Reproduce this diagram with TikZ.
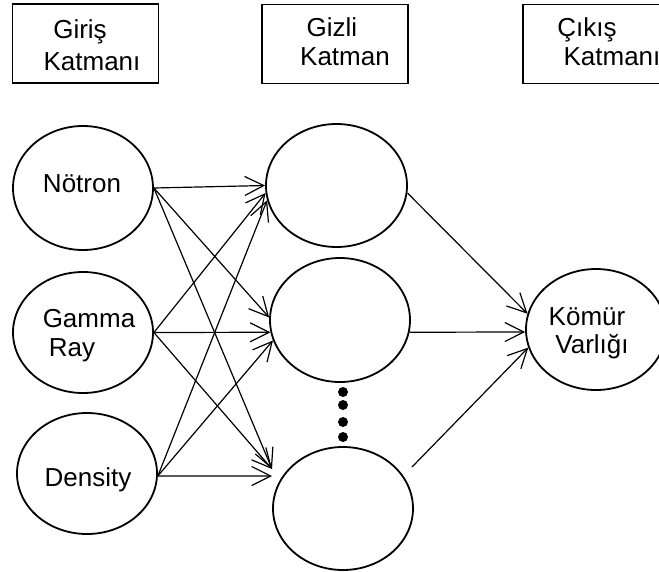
\documentclass[tikz,border=0pt]{standalone}
\usepackage{fontspec}
\setmainfont{Liberation Sans}
\usetikzlibrary{shapes.geometric,arrows.meta}
\begin{document}
\begin{tikzpicture}[x=1pt,y=-1pt,
  every node/.style={font=\fontsize{26}{31}\selectfont},
  layerbox/.style={draw, line width=1.5pt, minimum width=146pt, minimum height=79pt, inner sep=0pt},
  neuron/.style={draw, ellipse, line width=1.8pt, minimum width=140pt, minimum height=122pt, inner sep=0pt},
  word/.style={anchor=base, inner sep=0pt},
  link/.style={line width=1.2pt, -{Straight Barb[length=19pt,width=19pt,line width=1.2pt]}},
  dot/.style={circle, fill, inner sep=0pt, minimum size=10pt}]
\clip (0,0) rectangle (659,571);

% layer titles
\node[layerbox] (boxin)  at (85.5,43.5) {};
\node[layerbox] (boxhid) at (335,44) {};
\node[layerbox] (boxout) at (596,44) {};
\node[word] (tin1)  at (80,38)  {Giriş};
\node[word] (tin2)  at (92,70)  {Katmanı};
\node[word] (thid1) at (332,36) {Gizli};
\node[word] (thid2) at (345,65) {Katman};
\node[word] (tout1) at (587,36) {Çıkış};
\node[word] (tout2) at (612,65) {Katmanı};

% input layer
\node[neuron, minimum height=124pt] (n) at (83,188) {};
\node[neuron, minimum height=121pt] (g) at (83,332.5) {};
\node[neuron, minimum height=121pt] (d) at (87,473.5) {};
\node[word] (ln)  at (82,192)  {Nötron};
\node[word] (lg1) at (89,327)  {Gamma};
\node[word] (lg2) at (72,356)  {Ray};
\node[word] (ld)  at (88,486)  {Density};

% hidden layer
\node[neuron, minimum width=141pt, minimum height=123pt] (h1) at (336.5,185.5) {};
\node[neuron, minimum height=124pt] (h2) at (340,320) {};
\node[neuron, minimum height=123pt] (h3) at (343,508.5) {};
\node[dot] (p1) at (343,392) {};
\node[dot] (p2) at (343,405) {};
\node[dot] (p3) at (343,422) {};
\node[dot] (p4) at (343,437) {};

% output layer
\node[neuron, minimum height=121pt] (o) at (596,329.5) {};
\node[word] (lo1) at (587,325) {Kömür};
\node[word] (lo2) at (592,353) {Varlığı};

% free arrow ends near the last hidden neuron
\coordinate (t3a) at (272,469);
\coordinate (t3b) at (272,476);
\coordinate (s3)  at (412,467);

% input -> hidden
\draw[link] (n.east) -- (h1.180);
\draw[link] (n.east) -- (h2.178);
\draw[link] (n.east) -- (t3a);
\draw[link] (g.east) -- (h1.186);
\draw[link] (g.east) -- (h2.190);
\draw[link] (g.east) -- (t3a);
\draw[link] (d.358) -- (h1.192);
\draw[link] (d.358) -- (h2.197);
\draw[link] (d.358) -- (t3b);

% hidden -> output
\draw[link] (h1.-6) -- (o.167);
\draw[link] (h2.-10) -- (o.182);
\draw[link] (s3) -- (o.195);
\end{tikzpicture}
\end{document}
